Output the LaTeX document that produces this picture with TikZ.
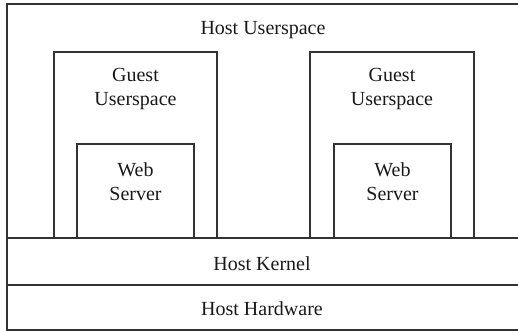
\documentclass[tikz,border=0pt]{standalone}
\usepackage{fontspec}
\setmainfont{Liberation Serif}
\begin{document}
\begin{tikzpicture}[x=1pt,y=-1pt,
  frame/.style={draw=black!80,line width=1.3pt},
  lbl/.style={font=\fontsize{20}{24}\selectfont,align=center,inner sep=0pt,text=black!90}]
\useasboundingbox (0,0) rectangle (518,331);
% outer frame (right side lies outside the picture)
\draw[frame] (530,4) -- (7,4) -- (7,330) -- (530,330);
\draw[frame] (7,238) -- (530,238);
\draw[frame] (7,285) -- (530,285);
% guest boxes
\draw[frame] (54,238) -- (54,52) -- (217,52) -- (217,238);
\draw[frame] (310,238) -- (310,52) -- (474,52) -- (474,238);
% web server boxes
\draw[frame] (77,238) -- (77,144) -- (194,144) -- (194,238);
\draw[frame] (334,238) -- (334,144) -- (451,144) -- (451,238);
% labels
\node[lbl] (hu) at (263,30) {Host Userspace};
\node[lbl] (gu1) at (135.5,89) {Guest\\Userspace};
\node[lbl] (gu2) at (392,89) {Guest\\Userspace};
\node[lbl] (ws1) at (135.5,182) {Web\\Server};
\node[lbl] (ws2) at (392.5,182) {Web\\Server};
\node[lbl] (hk) at (262,264) {Host Kernel};
\node[lbl] (hh) at (262,309) {Host Hardware};
\end{tikzpicture}
\end{document}
